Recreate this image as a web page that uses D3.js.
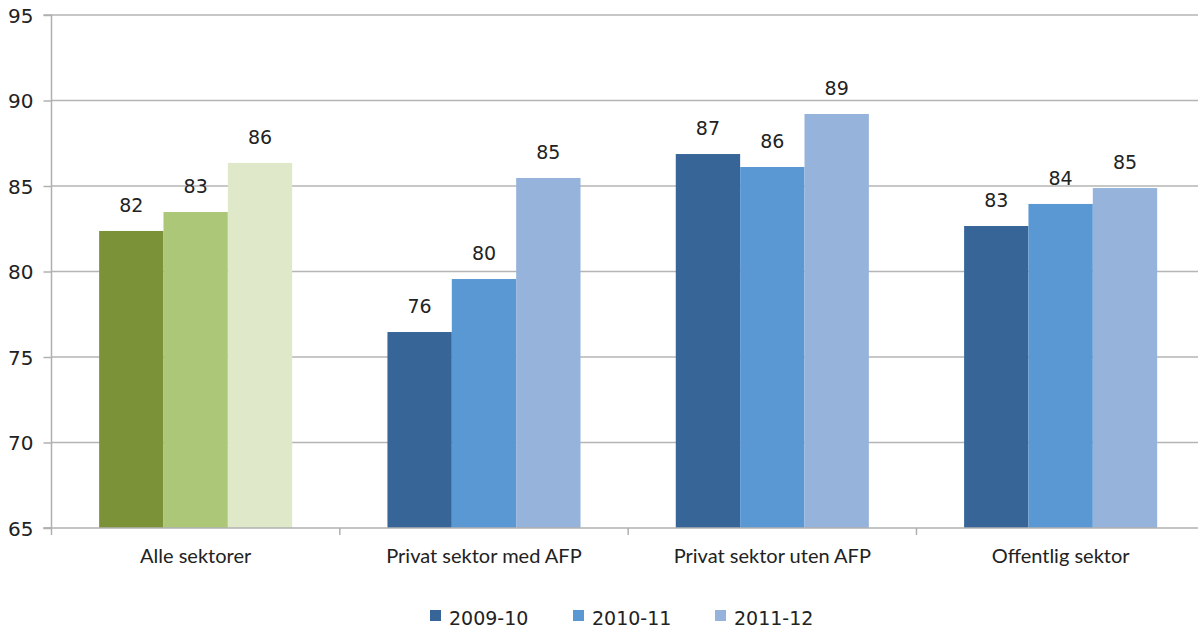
<!DOCTYPE html>
<html><head><meta charset="utf-8">
<script src="https://cdn.jsdelivr.net/npm/d3@7"></script>
<style>body{margin:0;background:#fff;}svg{display:block;}</style>
</head><body>
<svg id="c" width="1198" height="629"></svg>
<script>
const categories = ["Alle sektorer","Privat sektor med AFP","Privat sektor uten AFP","Offentlig sektor"];
const seriesNames = ["2009-10","2010-11","2011-12"];
const values2009 = [82.37, 76.46, 86.87, 82.66];
const values2010 = [83.48, 79.56, 86.11, 83.95];
const values2011 = [86.35, 85.47, 89.21, 84.88];
const labels2009 = ["82","76","87","83"];
const labels2010 = ["83","80","86","84"];
const labels2011 = ["86","85","89","85"];
const yTicks = [65,70,75,80,85,90,95];
const blueColors = ["#376597","#5a98d4","#96b4db"];
const greenColors = ["#7b9239","#adc778","#dfe9ca"];

const svg = d3.select("#c");
const x0 = 51.5, x1 = 1204.8, yTop = 15, yBot = 528;
const x = d3.scaleBand().domain(categories).range([x0, x1]);
const y = d3.scaleLinear().domain([65,95]).range([yBot, yTop]);
const inner = d3.scaleBand().domain(seriesNames).range([0, x.bandwidth()]).paddingInner(0).paddingOuter(0.74);

// grid
svg.append("g").selectAll("line").data(yTicks.filter(t=>t>65)).join("line")
  .attr("x1", x0).attr("x2", 1198).attr("y1", d=>y(d)).attr("y2", d=>y(d))
  .attr("stroke","#b5b5b5").attr("stroke-width",1.5);

const vals = [values2009, values2010, values2011];
const labs = [labels2009, labels2010, labels2011];
const data = [];
categories.forEach((c,i)=>seriesNames.forEach((s,j)=>data.push({c, s, j, i, v: vals[j][i], l: labs[j][i]})));

svg.append("g").selectAll("rect").data(data).join("rect")
  .attr("x", d=>x(d.c)+inner(d.s))
  .attr("width", inner.bandwidth())
  .attr("y", d=>y(d.v))
  .attr("height", d=>y(65)-y(d.v))
  .attr("fill", d=> d.i===0 ? greenColors[d.j] : blueColors[d.j]);

svg.append("g").selectAll("text").data(data).join("text")
  .attr("x", d=>x(d.c)+inner(d.s)+inner.bandwidth()/2)
  .attr("y", d=>y(d.v)-19)
  .attr("text-anchor","middle")
  .attr("font-family","DejaVu Sans").attr("font-size",19).attr("fill","#222")
  .text(d=>d.l);

// y axis
const yAxis = svg.append("g").attr("transform",`translate(${x0},0)`)
  .call(d3.axisLeft(y).tickValues(yTicks).tickSize(8).tickPadding(10));
yAxis.selectAll("line").attr("stroke","#b0b0b0").attr("stroke-width",1.5);
yAxis.select(".domain").attr("stroke","#b0b0b0").attr("stroke-width",1.5).attr("d",`M-8,${yTop}H0V${yBot}H-8`);
yAxis.selectAll("text").attr("font-family","DejaVu Sans").attr("font-size",20).attr("fill","#222").attr("dy","0.36em");

// x axis
const xAxis = svg.append("g").attr("transform",`translate(0,${yBot})`);
xAxis.append("line").attr("x1",x0-8).attr("x2",1198).attr("y1",0).attr("y2",0).attr("stroke","#b0b0b0").attr("stroke-width",1.5);
xAxis.selectAll("line.t").data(categories).join("line").attr("class","t")
  .attr("x1",d=>x(d)).attr("x2",d=>x(d)).attr("y1",0).attr("y2",7)
  .attr("stroke","#b0b0b0").attr("stroke-width",1.5);
xAxis.selectAll("text").data(categories).join("text")
  .attr("x", d=>x(d)+x.bandwidth()/2).attr("y", 35)
  .attr("text-anchor","middle").attr("font-family","Lato").attr("font-size",20).attr("fill","#222")
  .text(d=>d);

// legend
const legX = [430, 573, 715];
const leg = svg.append("g").selectAll("g").data(seriesNames).join("g")
  .attr("transform",(d,i)=>`translate(${legX[i]},610)`);
leg.append("rect").attr("width",11).attr("height",11).attr("fill",(d,i)=>blueColors[i]);
leg.append("text").attr("x",19).attr("y",15).attr("font-family","DejaVu Sans").attr("font-size",19).attr("fill","#222").text(d=>d);
</script>
</body></html>
